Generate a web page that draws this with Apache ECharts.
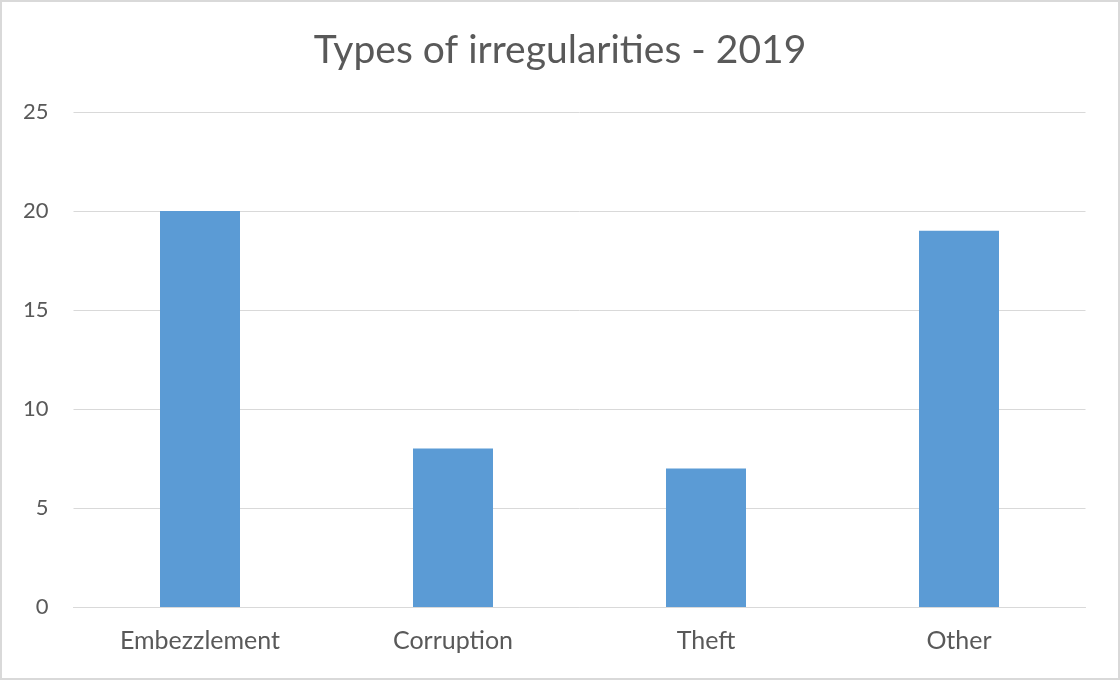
<!DOCTYPE html>
<html>
<head>
<meta charset="utf-8">
<script src="https://cdn.jsdelivr.net/npm/echarts@6/dist/echarts.min.js"></script>
<style>
html,body{margin:0;padding:0;background:#fff;}
#chart{width:1120px;height:680px;box-sizing:border-box;border:2px solid #d9d9d9;}
</style>
</head>
<body>
<div id="chart"></div>
<script>
const categories = ["Embezzlement", "Corruption", "Theft", "Other"];
const values = [20, 8, 7, 19];
const titleText = "Types of irregularities - 2019";

const chart = echarts.init(document.getElementById('chart'));
chart.setOption({
  animation: false,
  title: {
    text: titleText,
    left: 'center',
    top: 24,
    textStyle: {fontFamily: 'Lato', fontSize: 39, fontWeight: 'normal', color: '#595959'}
  },
  grid: {left: 71.5, right: 32.5, top: 110, bottom: 71, containLabel: false},
  xAxis: {
    type: 'category',
    data: categories,
    axisLine: {lineStyle: {color: '#d9d9d9', width: 1}},
    axisTick: {show: false},
    axisLabel: {fontFamily: 'Lato', fontSize: 25, color: '#595959', margin: 21}
  },
  yAxis: {
    type: 'value',
    min: 0, max: 25, interval: 5,
    axisLine: {show: false},
    axisTick: {show: false},
    splitLine: {lineStyle: {color: '#d9d9d9', width: 1}},
    axisLabel: {fontFamily: 'Lato', fontSize: 22, color: '#595959', margin: 25}
  },
  series: [{
    type: 'bar',
    data: values,
    barWidth: 80,
    itemStyle: {color: '#5b9bd5'}
  }]
});
</script>
</body>
</html>
